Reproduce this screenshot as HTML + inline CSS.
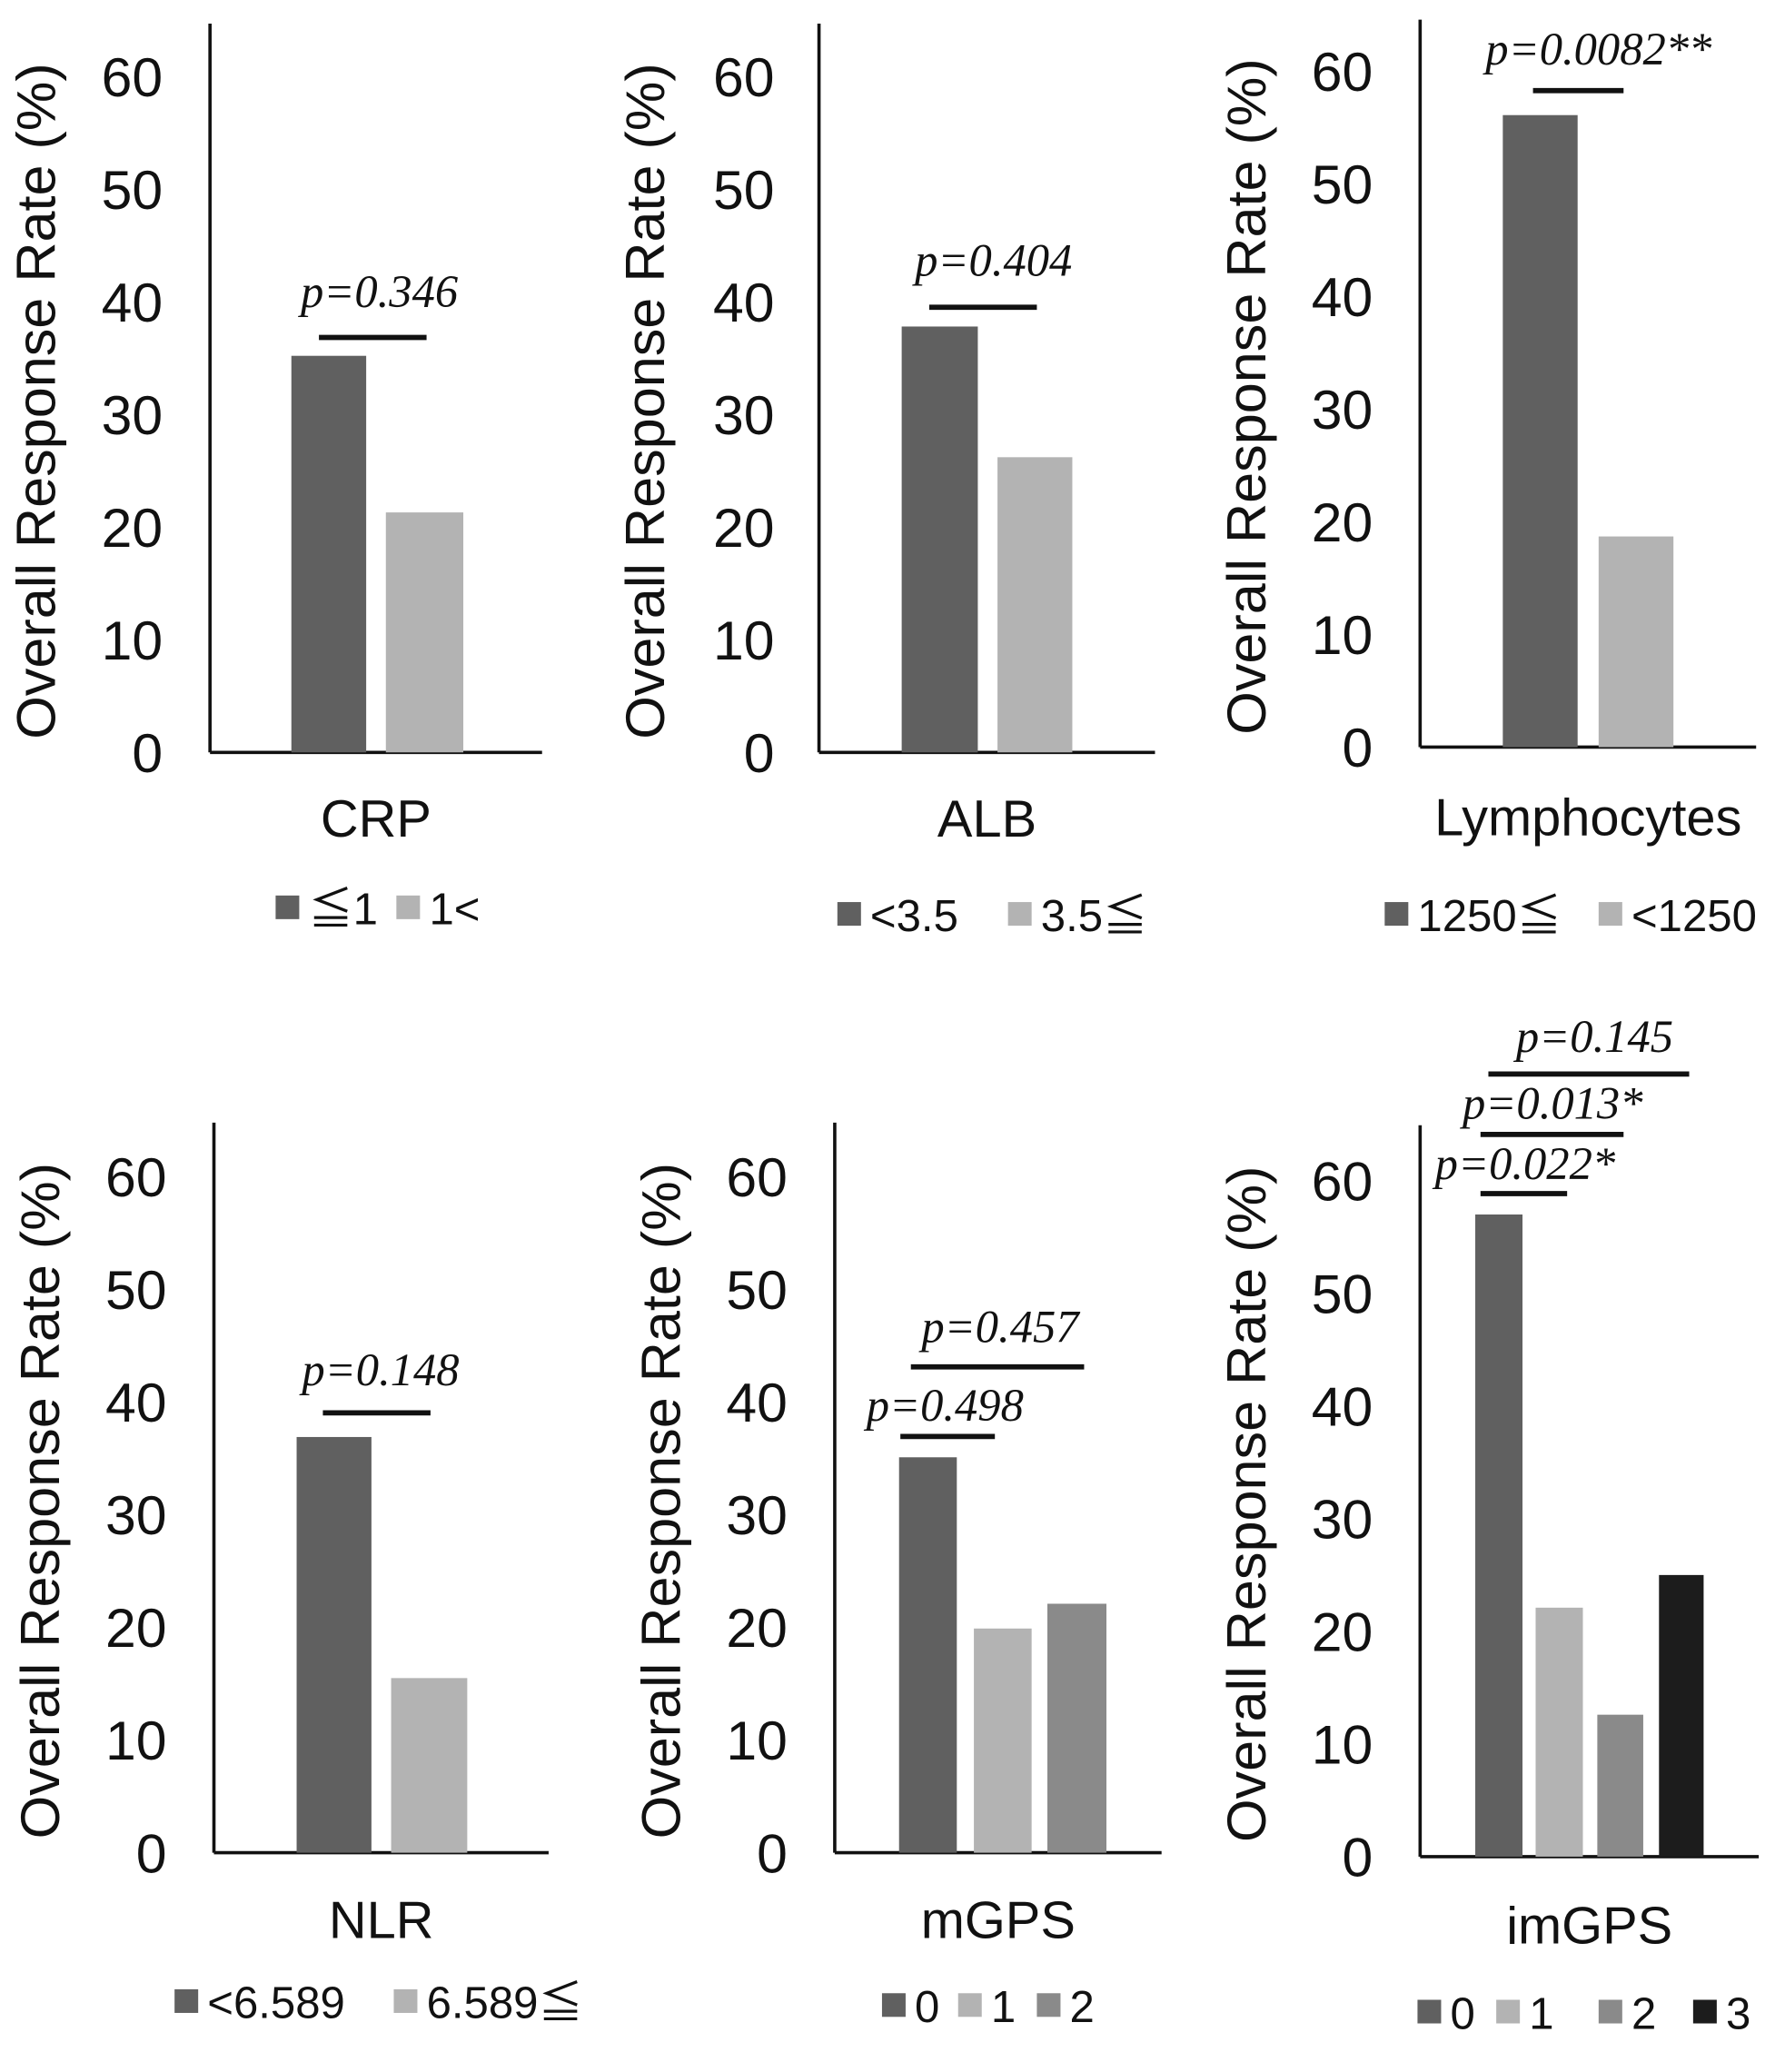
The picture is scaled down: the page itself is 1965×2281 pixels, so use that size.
<!DOCTYPE html>
<html><head><meta charset="utf-8"><style>
html,body{margin:0;padding:0;background:#fff;}
svg{display:block}
.tk{font-family:"Liberation Sans",sans-serif;font-size:42px;fill:#111;text-anchor:end}
.yt{font-family:"Liberation Sans",sans-serif;font-size:42px;fill:#111;text-anchor:middle}
.cat{font-family:"Liberation Sans",sans-serif;font-size:40px;fill:#111;text-anchor:middle}
.lg{font-family:"Liberation Sans","Noto Sans CJK JP",sans-serif;font-size:34px;fill:#111}
.pv{font-family:"Liberation Serif",serif;font-style:italic;font-size:35px;fill:#111;text-anchor:middle}
</style></head><body>
<svg id="fig" width="1965" height="2281" viewBox="0 0 1360 1578" preserveAspectRatio="none" xmlns="http://www.w3.org/2000/svg"></svg>
<script>
const ticks=[0,10,20,30,40,50,60];
const tickLabels=["0","10","20","30","40","50","60"];
const crpCats=["≦1","1<"];
const crpVals=[35.2,21.3];
const albCats=["<3.5","3.5≦"];
const albVals=[37.8,26.2];
const lymCats=["1250≦","<1250"];
const lymVals=[56.1,18.7];
const nlrCats=["<6.589","6.589≦"];
const nlrVals=[36.9,15.5];
const mgpsCats=["0","1","2"];
const mgpsVals=[35.1,19.9,22.1];
const imgpsCats=["0","1","2","3"];
const imgpsVals=[57.0,22.1,12.6,25.0];
const crpP=["p=0.346"];
const albP=["p=0.404"];
const lymP=["p=0.0082**"];
const nlrP=["p=0.148"];
const mgpsP=["p=0.498","p=0.457"];
const imgpsP=["p=0.022*","p=0.013*","p=0.145"];

const NS="http://www.w3.org/2000/svg";
const svg=document.getElementById('fig');
function mk(tag,at,parent){const e=document.createElementNS(NS,tag);for(const k in at)e.setAttribute(k,at[k]);(parent||svg).appendChild(e);return e;}
const colors=["#606060","#b3b3b3","#8a8a8a","#1c1c1c"];

function panel(name,ax,top,base,right,tickX,titleX,cats,vals,bars,catLabel,catY,legY,legX,brackets,pvals){
  const g=mk('g',{});
  
  
  const unit=8.58;
  const yy=v=>base-unit*v;
  const axisY=mk('line',{x1:ax,y1:top,x2:ax,y2:base,stroke:'#111','stroke-width':2.5},g);
  
  
  const axisX=mk('line',{x1:ax,y1:base,x2:right,y2:base,stroke:'#111','stroke-width':2.5},g);
  
  
  ticks.forEach((t,i)=>{const tx=mk('text',{x:tickX,y:yy(t)+15,class:'tk'},g);tx.textContent=tickLabels[i];
    
    });
  const midY=(base+top)/2+10;
  const ttl=mk('text',{x:0,y:0,class:'yt',transform:`translate(${titleX},${midY}) rotate(-90)`,textLength:515,lengthAdjust:'spacingAndGlyphs'},g);
  ttl.textContent="Overall Response Rate (%)";
  
  
  vals.forEach((v,i)=>{const b=bars[i];const r=mk('rect',{x:b[0],y:yy(v),width:b[1]-b[0],height:base-yy(v),fill:colors[i]},g);
    
    });
  const c=mk('text',{x:(ax+right)/2,y:catY,class:'cat'},g);c.textContent=catLabel;
  
  
  cats.forEach((k,i)=>{const sq=mk('rect',{x:legX[i],y:legY-10,width:18,height:18,fill:colors[i]},g);
    
    
    const t=mk('text',{x:legX[i]+25,y:legY+12,class:'lg'},g);t.textContent=k;
    
    });
  brackets.forEach((br,i)=>{const l=mk('line',{x1:br[0],x2:br[1],y1:br[2],y2:br[2],stroke:'#111','stroke-width':4},g);
    
    
    const t=mk('text',{x:br[3],y:br[4]+12,class:'pv'},g);t.textContent=pvals[i];
    
    });
}
panel('crp',160,18,573,413,124,42,crpCats,crpVals,[[222,279],[294,353]],'CRP',637,692,[210,302],[[243,325,257,289,222]],crpP);
panel('alb',624,18,573,880,590,506,albCats,albVals,[[687,745],[760,817]],'ALB',637,697,[638,768],[[708,790,234,757,198]],albP);
panel('lymphocytes',1082,15,569,1338,1046,964,lymCats,lymVals,[[1145,1202],[1218,1275]],'Lymphocytes',636,697,[1055,1218],[[1168,1237,69,1218,37]],lymP);
panel('nlr',163,855,1411,418,127,45,nlrCats,nlrVals,[[226,283],[298,356]],'NLR',1476,1525,[133,300],[[246,328,1076,290,1043]],nlrP);
panel('mgps',636,855,1411,885,600,518,mgpsCats,mgpsVals,[[685,729],[742,786],[798,843]],'mGPS',1476,1528,[672,730,790],[[686,758,1094,720,1070],[694,826,1041,762,1010]],mgpsP);
panel('imgps',1082,857,1414,1340,1046,964,imgpsCats,imgpsVals,[[1124,1160],[1170,1206],[1217,1252],[1264,1298]],'imGPS',1480,1533,[1080,1140,1218,1290],[[1128,1194,909,1162,886],[1128,1237,864,1183,840],[1134,1287,818,1215,789]],imgpsP);
</script>
</body></html>
